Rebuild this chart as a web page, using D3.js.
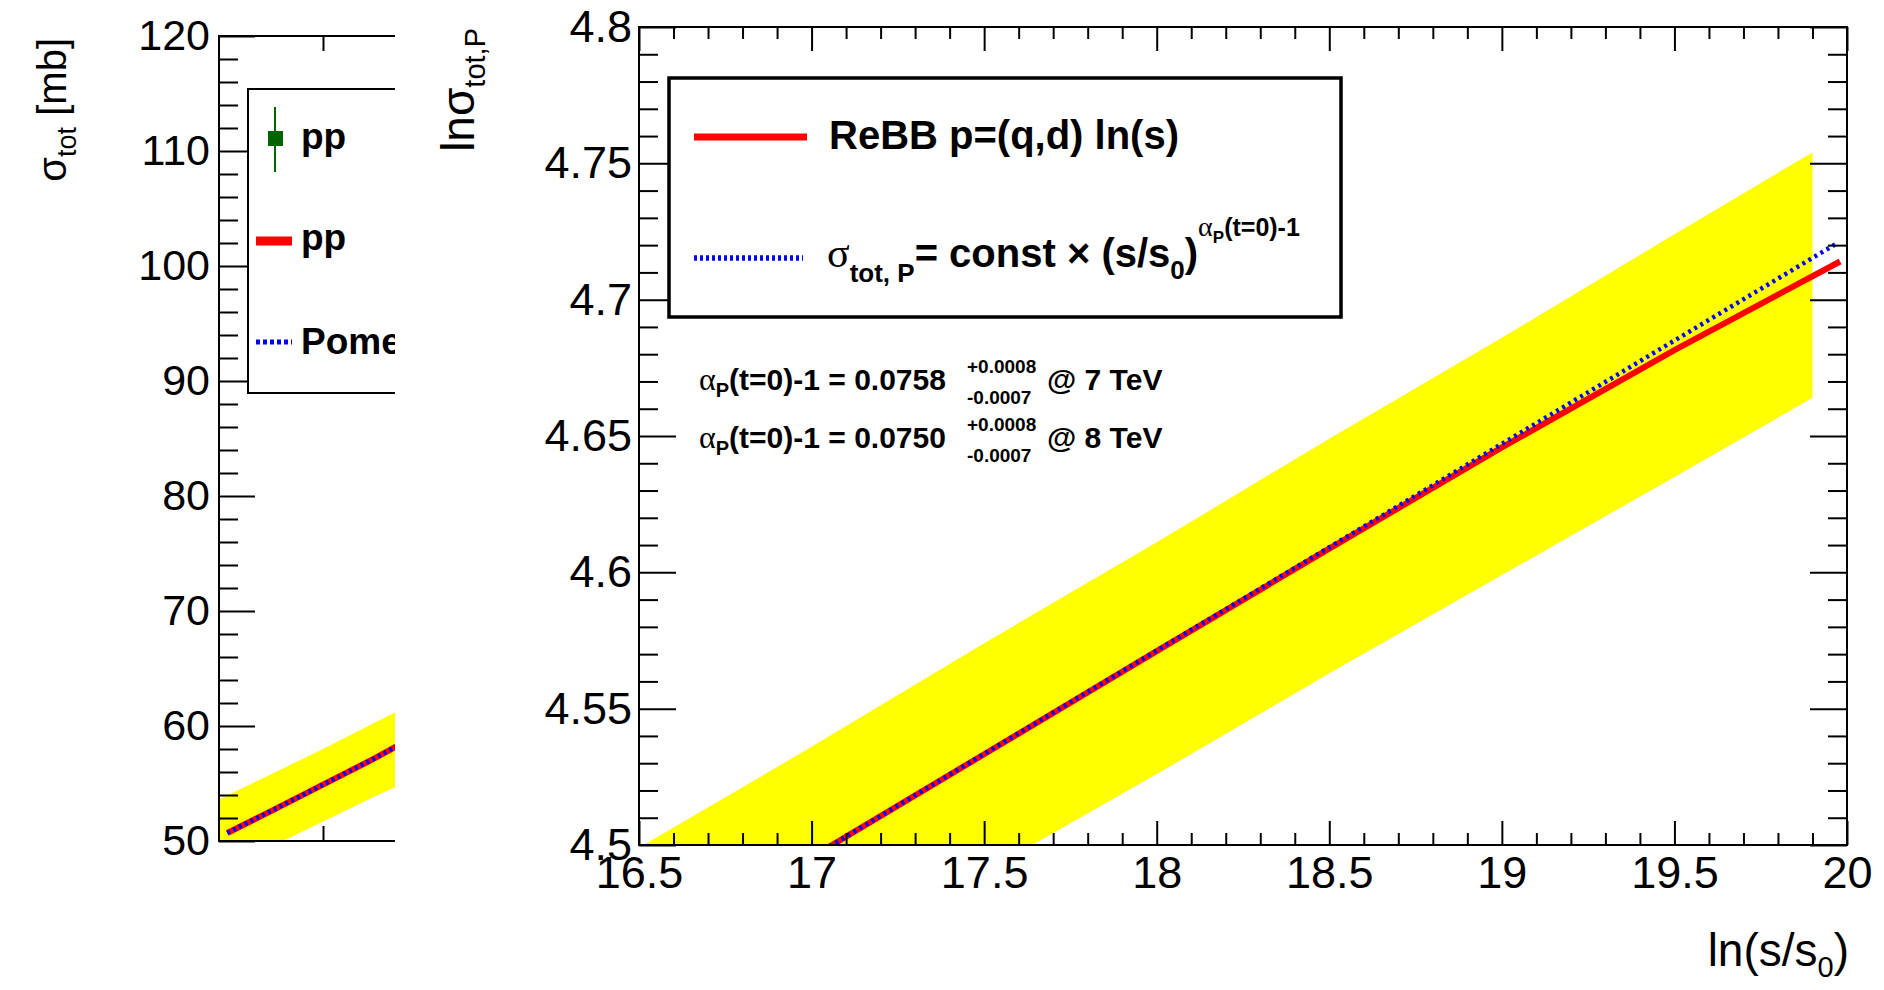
<!DOCTYPE html>
<html><head><meta charset="utf-8">
<script src="https://cdn.jsdelivr.net/npm/d3@7"></script>
<style>
body{margin:0;background:#fff;}
svg{display:block;}
</style>
</head><body>
<svg id="c" width="1884" height="990"></svg>
<script>
// ---------------- data ----------------
// right panel: ln(sigma_tot) vs ln(s/s0)
const rightXTicks = [16.5, 17, 17.5, 18, 18.5, 19, 19.5, 20];
const rightXLabels = ["16.5", "17", "17.5", "18", "18.5", "19", "19.5", "20"];
const rightYTicks = [4.5, 4.55, 4.6, 4.65, 4.7, 4.75, 4.8];
const rightYLabels = ["4.5", "4.55", "4.6", "4.65", "4.7", "4.75", "4.8"];

const bandX  = [16.5, 17, 17.5, 18, 18.5, 19, 19.5, 19.9];
const bandHi = [4.499, 4.536, 4.574, 4.611, 4.649, 4.686, 4.724, 4.754];
const bandLo = [4.418, 4.454, 4.490, 4.526, 4.563, 4.599, 4.635, 4.664];

const rebbX = [17.0, 17.5, 18, 18.5, 19, 19.5, 19.98];
const rebbY = [4.4955, 4.5333, 4.5711, 4.6087, 4.6458, 4.6815, 4.714];

const pomX = [17.0, 17.5, 18, 18.5, 19, 19.5, 19.97];
const pomY = [4.4955, 4.5334, 4.5713, 4.6092, 4.6471, 4.6850, 4.7206];

// left panel: sigma_tot [mb] (clipped view)
const leftYTicks = [50, 60, 70, 80, 90, 100, 110, 120];
const leftYLabels = ["50", "60", "70", "80", "90", "100", "110", "120"];
const leftXTicks = [0.1, 0.2, 0.3, 0.4];
const leftLineX = [0.008, 0.05, 0.1, 0.15, 0.17];
const leftLineY = [50.7, 52.6, 54.9, 57.2, 58.2];
const leftBandX  = [0, 0.05, 0.1, 0.15, 0.17];
const leftBandHi = [53.6, 55.8, 58.0, 60.3, 61.2];
const leftBandLo = [47.3, 49.5, 51.7, 53.9, 54.7];

// ---------------- drawing ----------------
const SANS = "'Liberation Sans', Arial, Helvetica, sans-serif";
const SERIF = "'Liberation Serif', 'Times New Roman', serif";
const svg = d3.select("#c").attr("font-family", SANS);
const defs = svg.append("defs");

function clip(id, x, y, w, h) {
  defs.append("clipPath").attr("id", id).append("rect")
    .attr("x", x).attr("y", y).attr("width", w).attr("height", h);
}

function styleAxis(g, size) {
  g.select(".domain").remove();
  g.attr("font-family", SANS).attr("font-size", size);
  g.selectAll("line").attr("stroke", "#000").attr("stroke-width", 2);
  g.selectAll("text").attr("fill", "#000");
}

// ===== LEFT PANEL =====
const L = {x0: 219, x1: 739, y0: 36, y1: 841, cut: 395};
const xL = d3.scaleLinear().domain([0, 0.5]).range([L.x0, L.x1]);
const yL = d3.scaleLinear().domain([50, 120]).range([L.y1, L.y0]);
clip("clipLall", 0, 0, L.cut, 990);
clip("clipLplot", L.x0, L.y0, L.cut - L.x0, L.y1 - L.y0);

const gL = svg.append("g").attr("clip-path", "url(#clipLall)");
const gLp = gL.append("g").attr("clip-path", "url(#clipLplot)");

const leftBand = leftBandX.map((x, i) => ({x, lo: leftBandLo[i], hi: leftBandHi[i]}));
gLp.append("path").datum(leftBand)
  .attr("d", d3.area().x(d => xL(d.x)).y0(d => yL(d.lo)).y1(d => yL(d.hi)))
  .attr("fill", "#ffff00");
const leftLine = leftLineX.map((x, i) => ({x, y: leftLineY[i]}));
const lineL = d3.line().x(d => xL(d.x)).y(d => yL(d.y));
gLp.append("path").datum(leftLine).attr("d", lineL)
  .attr("fill", "none").attr("stroke", "#ff0000").attr("stroke-width", 6);
gLp.append("path").datum(leftLine).attr("d", lineL)
  .attr("fill", "none").attr("stroke", "#0000ff").attr("stroke-width", 4.5)
  .attr("stroke-dasharray", "3,3.5");

// left axes
const leftMinorY = d3.range(50, 121, 2).filter(v => v % 10 !== 0);
gL.append("g").attr("transform", `translate(${L.x0},0)`)
  .call(d3.axisLeft(yL).tickValues(leftYTicks).tickSize(-36).tickSizeOuter(0).tickPadding(9)
    .tickFormat((d, i) => leftYLabels[i]))
  .call(g => styleAxis(g, 43));
gL.append("g").attr("transform", `translate(${L.x0},0)`)
  .call(d3.axisLeft(yL).tickValues(leftMinorY).tickSize(-19).tickSizeOuter(0).tickFormat(""))
  .call(g => styleAxis(g, 43));
gL.append("g").attr("transform", `translate(0,${L.y1})`)
  .call(d3.axisBottom(xL).tickValues(leftXTicks).tickSize(-15).tickSizeOuter(0).tickFormat(""))
  .call(g => styleAxis(g, 43));
gL.append("g").attr("transform", `translate(0,${L.y0})`)
  .call(d3.axisTop(xL).tickValues(leftXTicks).tickSize(-15).tickSizeOuter(0).tickFormat(""))
  .call(g => styleAxis(g, 43));
gL.append("rect").attr("x", L.x0).attr("y", L.y0).attr("width", L.x1 - L.x0).attr("height", L.y1 - L.y0)
  .attr("fill", "none").attr("stroke", "#000").attr("stroke-width", 2);

// left legend
const legL = gL.append("g");
legL.append("rect").attr("x", 248).attr("y", 89).attr("width", 320).attr("height", 304)
  .attr("fill", "#fff").attr("stroke", "#000").attr("stroke-width", 2);
legL.append("line").attr("x1", 275).attr("x2", 275).attr("y1", 107).attr("y2", 172)
  .attr("stroke", "#006400").attr("stroke-width", 2);
legL.append("rect").attr("x", 268).attr("y", 131).attr("width", 15).attr("height", 15).attr("fill", "#006400");
legL.append("line").attr("x1", 256).attr("x2", 292).attr("y1", 241).attr("y2", 241)
  .attr("stroke", "#ff0000").attr("stroke-width", 9);
legL.append("line").attr("x1", 256).attr("x2", 292).attr("y1", 342).attr("y2", 342)
  .attr("stroke", "#0000ff").attr("stroke-width", 5).attr("stroke-dasharray", "4,3");
[["pp", 149], ["pp", 250], ["Pomeron", 354]].forEach(([t, y]) => {
  legL.append("text").attr("x", 301).attr("y", y).attr("font-size", 37).attr("font-weight", "bold").text(t);
});

// left y title
const tL = svg.append("text").attr("transform", "translate(66,38) rotate(-90)")
  .attr("text-anchor", "end").attr("font-size", 40);
tL.append("tspan").text("σ");
tL.append("tspan").attr("font-size", 27).attr("dy", 10).text("tot");
tL.append("tspan").attr("dy", -10).text(" [mb]");

// ===== RIGHT PANEL =====
const R = {x0: 639, x1: 1847, y0: 27, y1: 845};
const xR = d3.scaleLinear().domain([16.5, 20]).range([R.x0, R.x1]);
const yR = d3.scaleLinear().domain([4.5, 4.8]).range([R.y1, R.y0]);
clip("clipR", R.x0, R.y0, R.x1 - R.x0, R.y1 - R.y0);
const gRp = svg.append("g").attr("clip-path", "url(#clipR)");

const band = bandX.map((x, i) => ({x, lo: bandLo[i], hi: bandHi[i]}));
gRp.append("path").datum(band)
  .attr("d", d3.area().x(d => xR(d.x)).y0(d => yR(d.lo)).y1(d => yR(d.hi)))
  .attr("fill", "#ffff00");
const lineR = d3.line().x(d => xR(d.x)).y(d => yR(d.y));
gRp.append("path").datum(rebbX.map((x, i) => ({x, y: rebbY[i]}))).attr("d", lineR)
  .attr("fill", "none").attr("stroke", "#ff0000").attr("stroke-width", 6);
gRp.append("path").datum(pomX.map((x, i) => ({x, y: pomY[i]}))).attr("d", lineR)
  .attr("fill", "none").attr("stroke", "#0000ff").attr("stroke-width", 4.5)
  .attr("stroke-dasharray", "3,4");

// right axes
const xMinor = d3.range(0, 36).map(i => 16.5 + i * 0.1).filter((v, i) => i % 5 !== 0);
const yMinor = d3.range(0, 31).map(i => 4.5 + i * 0.01).filter((v, i) => i % 5 !== 0);
svg.append("g").attr("transform", `translate(0,${R.y1})`)
  .call(d3.axisBottom(xR).tickValues(rightXTicks).tickSize(-24).tickSizeOuter(0).tickPadding(11)
    .tickFormat((d, i) => rightXLabels[i]))
  .call(g => styleAxis(g, 45));
svg.append("g").attr("transform", `translate(0,${R.y1})`)
  .call(d3.axisBottom(xR).tickValues(xMinor).tickSize(-12).tickSizeOuter(0).tickFormat(""))
  .call(g => styleAxis(g, 45));
svg.append("g").attr("transform", `translate(0,${R.y0})`)
  .call(d3.axisTop(xR).tickValues(rightXTicks).tickSize(-24).tickSizeOuter(0).tickFormat(""))
  .call(g => styleAxis(g, 45));
svg.append("g").attr("transform", `translate(0,${R.y0})`)
  .call(d3.axisTop(xR).tickValues(xMinor).tickSize(-12).tickSizeOuter(0).tickFormat(""))
  .call(g => styleAxis(g, 45));
svg.append("g").attr("transform", `translate(${R.x0},0)`)
  .call(d3.axisLeft(yR).tickValues(rightYTicks).tickSize(-37).tickSizeOuter(0).tickPadding(7)
    .tickFormat((d, i) => rightYLabels[i]))
  .call(g => styleAxis(g, 45));
svg.append("g").attr("transform", `translate(${R.x0},0)`)
  .call(d3.axisLeft(yR).tickValues(yMinor).tickSize(-19).tickSizeOuter(0).tickFormat(""))
  .call(g => styleAxis(g, 45));
svg.append("g").attr("transform", `translate(${R.x1},0)`)
  .call(d3.axisRight(yR).tickValues(rightYTicks).tickSize(-37).tickSizeOuter(0).tickFormat(""))
  .call(g => styleAxis(g, 45));
svg.append("g").attr("transform", `translate(${R.x1},0)`)
  .call(d3.axisRight(yR).tickValues(yMinor).tickSize(-19).tickSizeOuter(0).tickFormat(""))
  .call(g => styleAxis(g, 45));
svg.append("rect").attr("x", R.x0).attr("y", R.y0).attr("width", R.x1 - R.x0).attr("height", R.y1 - R.y0)
  .attr("fill", "none").attr("stroke", "#000").attr("stroke-width", 2);

// right y title
const tR = svg.append("text").attr("transform", "translate(474,28) rotate(-90)")
  .attr("text-anchor", "end").attr("font-size", 46);
tR.append("tspan").text("lnσ");
tR.append("tspan").attr("font-size", 29).attr("dy", 11).text("tot,P");

// x title
const tX = svg.append("text").attr("x", 1849).attr("y", 966).attr("text-anchor", "end").attr("font-size", 46);
tX.append("tspan").text("ln(s/s");
tX.append("tspan").attr("font-size", 29).attr("dy", 11).text("0");
tX.append("tspan").attr("dy", -11).text(")");

// right legend
const legR = svg.append("g");
legR.append("rect").attr("x", 669).attr("y", 78).attr("width", 672).attr("height", 239)
  .attr("fill", "#fff").attr("stroke", "#000").attr("stroke-width", 3.5);
legR.append("line").attr("x1", 694).attr("x2", 807).attr("y1", 137).attr("y2", 137)
  .attr("stroke", "#ff0000").attr("stroke-width", 7);
legR.append("text").attr("x", 829).attr("y", 149).attr("font-size", 40).attr("font-weight", "bold")
  .text("ReBB p=(q,d) ln(s)");
legR.append("line").attr("x1", 694).attr("x2", 803).attr("y1", 258).attr("y2", 258)
  .attr("stroke", "#0000ff").attr("stroke-width", 5.5).attr("stroke-dasharray", "3,3");
const l2 = legR.append("text").attr("x", 827).attr("y", 267).attr("font-size", 40).attr("font-weight", "bold");
l2.append("tspan").attr("font-family", SERIF).attr("font-weight", "normal").attr("font-size", 42).text("σ");
l2.append("tspan").attr("font-size", 26).attr("dy", 15).text("tot, P");
l2.append("tspan").attr("dy", -15).text("= const × (s/s");
l2.append("tspan").attr("font-size", 26).attr("dy", 12).text("0");
l2.append("tspan").attr("dy", -12).text(")");
l2.append("tspan").attr("font-family", SERIF).attr("font-weight", "normal").attr("font-size", 28).attr("dy", -31).text("α");
l2.append("tspan").attr("font-size", 17).attr("dy", 7).text("P");
l2.append("tspan").attr("font-size", 25).attr("dy", -7).text("(t=0)-1");

// fit-result annotations
[["0.0758", "7", 390], ["0.0750", "8", 448]].forEach(([v, e, y]) => {
  const t = svg.append("text").attr("x", 699).attr("y", y).attr("font-size", 30).attr("font-weight", "bold");
  t.append("tspan").attr("font-family", SERIF).attr("font-weight", "normal").attr("font-size", 32).text("α");
  t.append("tspan").attr("font-size", 20).attr("dy", 7).text("P");
  t.append("tspan").attr("dy", -7).text("(t=0)-1 = " + v);
  svg.append("text").attr("x", 967).attr("y", y - 17).attr("font-size", 19).attr("font-weight", "bold").text("+0.0008");
  svg.append("text").attr("x", 967).attr("y", y + 14).attr("font-size", 19).attr("font-weight", "bold").text("-0.0007");
  svg.append("text").attr("x", 1047).attr("y", y).attr("font-size", 30).attr("font-weight", "bold").text("@ " + e + " TeV");
});
</script>
</body></html>
